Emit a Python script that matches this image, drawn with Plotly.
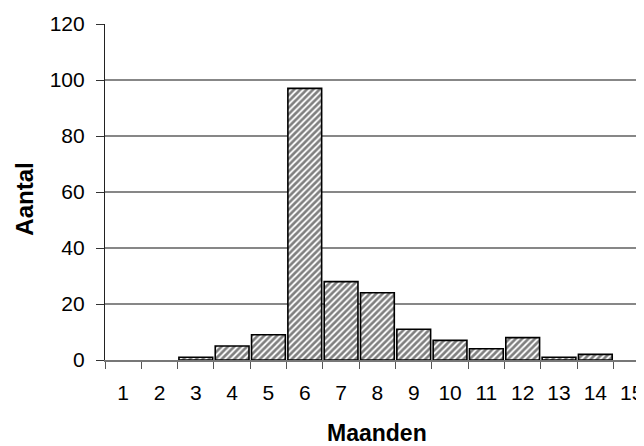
import plotly.graph_objects as go

months = [str(i) for i in range(1, 16)]
counts = [None, None, 1, 5, 9, 97, 28, 24, 11, 7, 4, 8, 1, 2, None]
y_ticks = [0, 20, 40, 60, 80, 100, 120]
grid_vals = [20, 40, 60, 80, 100]

fig = go.Figure()
fig.add_trace(go.Bar(
    x=months, y=counts,
    marker=dict(
        color="white",
        line=dict(color="black", width=1.6),
        pattern=dict(shape="/", fgcolor="black", bgcolor="white", size=4.5, solidity=0.6),
    ),
    width=0.93,
))

for v in grid_vals:
    fig.add_hline(y=v, line=dict(color="#111111", width=1.1), layer="below")

font = "Liberation Sans, Arial, sans-serif"
fig.update_layout(
    width=636, height=438,
    margin=dict(l=97, r=0, t=16, b=86),
    paper_bgcolor="white", plot_bgcolor="white",
    showlegend=False,
    font=dict(family=font, size=21, color="black"),
    xaxis=dict(
        type="category", range=[-0.5, 14.34],
        tickson="boundaries", ticks="outside", ticklen=7, tickcolor="#555555", tickwidth=1.2,
        showline=True, linecolor="#777777", linewidth=2,
        showgrid=False, ticklabelstandoff=13,
    ),
    yaxis=dict(
        range=[0, 120], tickvals=y_ticks,
        ticks="outside", ticklen=8, tickcolor="#333333", tickwidth=1.2,
        showline=True, linecolor="#222222", linewidth=1.2,
        showgrid=False, zeroline=False, ticklabelstandoff=7,
    ),
    annotations=[
        dict(text="<b>Aantal</b>", textangle=-90, xref="paper", yref="paper",
             x=-0.151, y=0.479, showarrow=False, font=dict(size=24),
             xanchor="center", yanchor="middle"),
        dict(text="<b>Maanden</b>", xref="paper", yref="paper",
             x=0.505, y=-0.217, showarrow=False, font=dict(size=23),
             xanchor="center", yanchor="middle"),
    ],
)

fig.write_html("out.html")
